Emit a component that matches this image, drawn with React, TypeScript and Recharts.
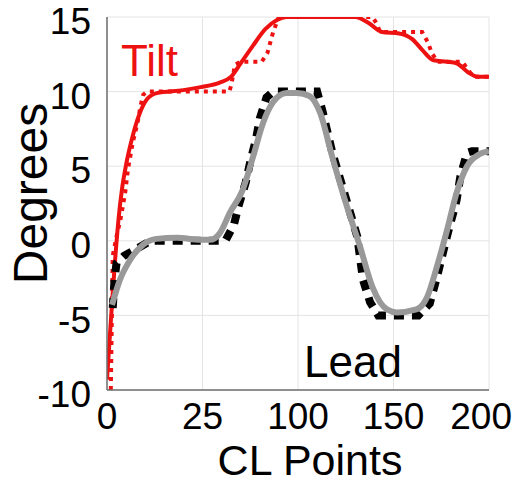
import React from "react";
import { LineChart, Line, XAxis, YAxis, CartesianGrid, Label } from "recharts";

const font = "'Liberation Sans', Arial, sans-serif";

const xTicks = [0, 50, 100, 150, 200];
const xTickLabels = ["0", "25", "100", "150", "200"];
const yTicks = [-10, -5, 0, 5, 10, 15];

// Tilt: reference (dotted) and actual (solid)
const tiltRefX = [2, 3, 5, 7, 9.5, 11, 13.5, 16, 17.5, 19, 21, 64, 65, 67, 70, 81, 84, 85.5, 87, 90, 139, 141, 143, 165, 168, 170, 173, 186, 190, 192, 200];
const tiltRefY = [-10, -1, 0.3, 1.4, 3.2, 4.8, 6.6, 7.9, 9, 9.8, 10, 10, 10.4, 11.8, 12, 12, 12.6, 13.3, 14, 15, 15, 14.6, 14, 14, 13.3, 12.6, 12, 12, 11.3, 11, 11];
const tiltX = [0, 2, 4, 6, 8, 10, 13, 17, 21, 26, 40, 49, 59, 65, 70, 76, 83, 89, 94, 130, 137, 144, 153, 160, 165, 171, 178, 183, 189, 194, 200];
const tiltY = [-9.3, -5.4, -1.7, 1.4, 3.6, 5.1, 6.8, 8.5, 9.5, 9.9, 10.1, 10.3, 10.6, 11.0, 11.9, 13.0, 14.2, 14.8, 15, 15, 14.6, 14.0, 13.9, 13.5, 12.8, 12.1, 12.0, 11.9, 11.3, 11.0, 11.0];

// Lead: reference (dotted) and actual (solid)
const leadRefX = [3, 4, 5, 9, 16, 23, 62, 66.5, 69, 72.6, 75, 78, 80, 83.5, 87, 110, 113, 118, 131, 134, 137.7, 142, 163, 169, 172.8, 178, 183, 185, 188.5, 191, 200];
const leadRefY = [-4.5, -2.5, -1.5, -1, -0.5, 0, 0, 1.1, 2.4, 3.9, 5.3, 6.8, 8.2, 9.6, 10, 10, 8.6, 5.9, 0.3, -2.6, -4.1, -5, -5, -4.2, -2.4, 0.3, 2.7, 4.3, 5.9, 6, 6];
const leadX = [2.6, 6.8, 12, 18.8, 26, 36.6, 48.7, 54, 59, 64.4, 71, 76.4, 81.7, 87, 94, 99.5, 106, 111.5, 118, 125.6, 132.5, 139, 146.6, 151.8, 162, 167.5, 172.8, 178, 183, 188.5, 195, 200];
const leadY = [-4.3, -2.6, -1.3, -0.27, 0.13, 0.2, 0.07, 0.07, 0.5, 1.9, 3.4, 5.6, 7.9, 9.3, 9.9, 9.9, 9.7, 8.6, 5.6, 2.3, -0.4, -3.1, -4.6, -4.8, -4.6, -3.8, -1.7, 0.7, 3.2, 5.0, 5.8, 6.0];

const toPoints = (xs: number[], ys: number[]) => xs.map((x, i) => ({ x, y: ys[i] }));

const tiltRef = toPoints(tiltRefX, tiltRefY);
const tilt = toPoints(tiltX, tiltY);
const leadRef = toPoints(leadRefX, leadRefY);
const lead = toPoints(leadX, leadY);

const frame = { stroke: "#6e6e6e", strokeWidth: 1.5 };

const XTick = (props: any) => {
  const { x, y, index } = props;
  const last = index === xTicks.length - 1;
  return (
    <text x={last ? x + 23 : x} y={y} dy="0.71em" textAnchor={last ? "end" : "middle"} fontSize={37} fontFamily={font} fill="#000">
      {xTickLabels[index]}
    </text>
  );
};

const YTick = (props: any) => {
  const { x, y, payload } = props;
  return (
    <text x={x} y={y + 4} dy="0.355em" textAnchor="end" fontSize={37} fontFamily={font} fill="#000">
      {payload.value}
    </text>
  );
};

const XTitle = (props: any) => {
  const { x, width } = props.viewBox;
  return (
    <text x={x + width / 2 + 12} y={475} textAnchor="middle" fontSize={43} fontFamily={font} fill="#000">
      CL Points
    </text>
  );
};

const YTitle = (props: any) => {
  const { y, height } = props.viewBox;
  const cx = 30;
  const cy = y + height / 2 - 10;
  return (
    <text
      x={cx}
      y={cy}
      textAnchor="middle"
      dominantBaseline="central"
      transform={`rotate(-90, ${cx}, ${cy})`}
      fontSize={48}
      fontFamily={font}
      fill="#000"
    >
      Degrees
    </text>
  );
};

export default function App() {
  return (
    <div style={{ position: "absolute", left: 0, top: 0, width: 518, height: 484, background: "#fff" }}>
      <LineChart width={518} height={484} margin={{ top: 17, right: 29, bottom: 0, left: 0 }}>
        <CartesianGrid stroke="#e4e4e4" strokeWidth={1} />
        <XAxis
          dataKey="x"
          type="number"
          domain={[0, 200]}
          ticks={xTicks}
          interval={0}
          height={94}
          tickLine={false}
          tickSize={0}
          tickMargin={13}
          axisLine={frame}
          tick={<XTick />}
          allowDataOverflow
        >
          <Label content={XTitle} />
        </XAxis>
        <YAxis
          type="number"
          domain={[-10, 15]}
          ticks={yTicks}
          interval={0}
          width={107}
          tickLine={false}
          tickSize={0}
          tickMargin={16}
          axisLine={frame}
          tick={<YTick />}
          allowDataOverflow
        >
          <Label content={YTitle} />
        </YAxis>
        <XAxis xAxisId="top" orientation="top" type="number" domain={[0, 200]} height={0} tick={false} tickLine={false} axisLine={frame} />
        <YAxis yAxisId="right" orientation="right" type="number" domain={[-10, 15]} width={0} tick={false} tickLine={false} axisLine={frame} />

        <Line data={tiltRef} dataKey="y" type="linear" stroke="#ee1111" strokeWidth={4} strokeDasharray="4 5" dot={false} isAnimationActive={false} />
        <Line data={tilt} dataKey="y" type="monotone" stroke="#ee1111" strokeWidth={4} dot={false} isAnimationActive={false} />
        <Line data={leadRef} dataKey="y" type="linear" stroke="#000" strokeWidth={8} strokeDasharray="10 8" dot={false} isAnimationActive={false} />
        <Line data={lead} dataKey="y" type="monotone" stroke="#999999" strokeWidth={6} dot={false} isAnimationActive={false} />
      </LineChart>
      <svg width={518} height={484} style={{ position: "absolute", left: 0, top: 0, pointerEvents: "none" }}>
        <text x={121} y={76} fontSize={44} fontFamily={font} fill="#ee1111">
          Tilt
        </text>
        <text x={304} y={377} fontSize={44} fontFamily={font} fill="#000">
          Lead
        </text>
      </svg>
    </div>
  );
}
